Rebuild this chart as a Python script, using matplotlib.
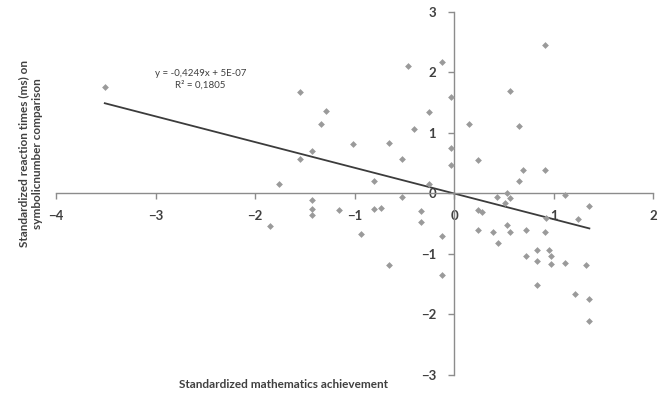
import numpy as np
import matplotlib
matplotlib.use("Agg")
import matplotlib.pyplot as plt

plt.rcParams['font.family'] = ['Lato', 'DejaVu Sans']

# standardized mathematics achievement (x) vs standardized RT (y)
math_z = [-3.51, -1.76, -1.55, -1.55, -1.43, -1.34, -1.29, -1.02, -0.80, -0.65,
          -0.52, -0.46, -0.40, -0.25, -0.25, -0.12, -0.03, -0.03, -0.03,
          0.15, 0.24, 0.56, 0.65, 0.69, 0.65, 0.91, 0.91, 0.53, 1.12, 0.43,
          -1.43, -1.43, -1.43, -1.85, -1.16, -0.80, -0.73, -0.94, -0.52, -0.65,
          -0.33, -0.33, -0.12, -0.12,
          0.24, 0.28, 0.56, 0.51, 1.36, 1.25, 0.92, 0.24, 0.39, 0.44, 0.53,
          0.56, 0.72, 0.91, 0.72, 0.83, 0.83, 0.95, 0.97, 0.97, 1.12, 1.33,
          0.83, 1.22, 1.36, 1.36]
rt_z = [1.76, 0.16, 1.67, 0.57, 0.70, 1.15, 1.37, 0.82, 0.20, 0.84,
        0.57, 2.10, 1.06, 1.35, 0.16, 2.17, 1.60, 0.75, 0.47,
        1.15, 0.56, 1.69, 1.12, 0.39, 0.21, 2.46, 0.39, 0.01, -0.02, -0.06,
        -0.10, -0.25, -0.35, -0.53, -0.28, -0.26, -0.24, -0.67, -0.06, -1.18,
        -0.29, -0.47, -0.71, -1.34,
        -0.28, -0.30, -0.08, -0.15, -0.20, -0.42, -0.41, -0.60, -0.63, -0.82, -0.52,
        -0.63, -0.60, -0.63, -1.04, -0.94, -1.12, -0.93, -1.04, -1.17, -1.15, -1.18,
        -1.52, -1.66, -1.74, -2.10]

slope = -0.4249
intercept = 5e-07
r2 = 0.1805

x_ticks = [-4, -3, -2, -1, 0, 1, 2]
y_ticks = [-3, -2, -1, 0, 1, 2, 3]

fig = plt.figure(figsize=(6.63, 3.98), dpi=100)
ax = fig.add_axes([0.0845, 0.0578, 0.9005, 0.9122])

ax.scatter(math_z, rt_z, marker='D', s=12, color='#9a9a9a', linewidths=0, zorder=3)

xs = np.array([min(math_z), max(math_z)])
ax.plot(xs, slope * xs + intercept, color='#3c3c3c', lw=1.3, zorder=2)

ax.set_xlim(-4, 2)
ax.set_ylim(-3, 3)
ax.set_xticks(x_ticks)
ax.set_yticks(y_ticks)

ax.spines['left'].set_position(('data', 0))
ax.spines['bottom'].set_position(('data', 0))
ax.spines['top'].set_visible(False)
ax.spines['right'].set_visible(False)
for s in ['left', 'bottom']:
    ax.spines[s].set_color('#8c8c8c')
    ax.spines[s].set_linewidth(1.0)

ax.tick_params(axis='both', colors='#8c8c8c', labelcolor='#404040',
               labelsize=9.5, length=4, width=1.0)
ax.tick_params(axis='x', pad=8)
ax.tick_params(axis='y', pad=9)
for lbl in ax.get_xticklabels() + ax.get_yticklabels():
    lbl.set_fontweight('bold')

ax.text(-2.55, 1.88, f'y = {slope:.4f}x + 5E-07\nR² = {r2:.4f}'.replace('.', ','),
        ha='center', va='center', fontsize=7, color='#404040', linespacing=1.35)

fig.text(0.427, 0.033, 'Standardized mathematics achievement', ha='center', va='center',
         fontsize=8.5, fontweight='bold', color='#404040')
fig.text(0.046, 0.615, 'Standardized reaction times (ms) on\nsymbolicnumber comparison',
         ha='center', va='center', rotation=90, fontsize=8.5, fontweight='bold',
         color='#404040', linespacing=1.35)

fig.savefig('out.png', dpi=100)
